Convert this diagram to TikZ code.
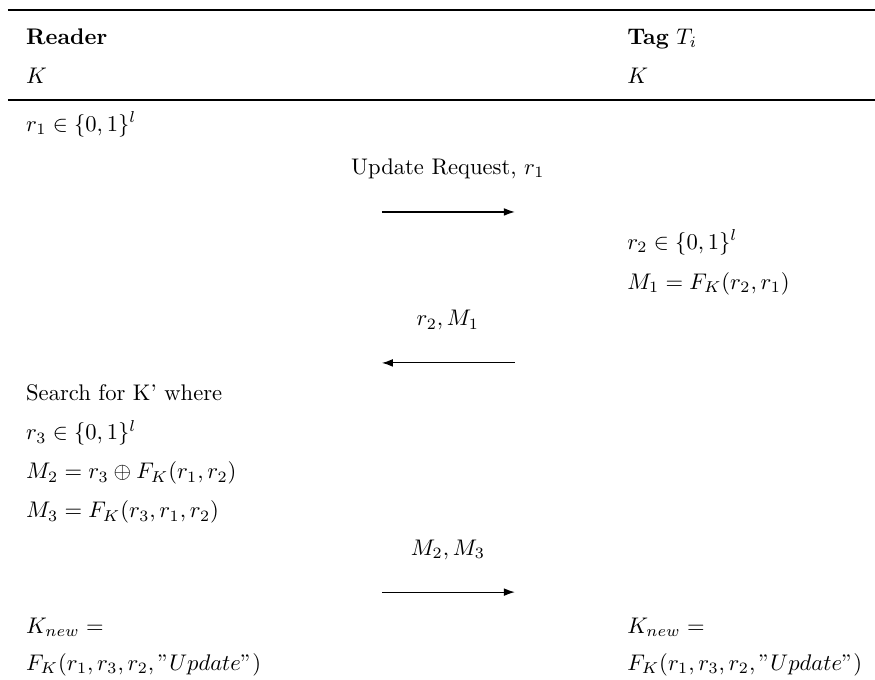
\documentclass[tikz,border=0pt]{standalone}
\usepackage{amsmath}
\usepackage{amssymb}
\usepackage{tikz}
\usetikzlibrary{arrows.meta,positioning}

\begin{document}
\begin{tikzpicture}[
    cell/.style={anchor=west,inner sep=0pt,text height=1.5ex,text depth=.25ex},
    msg/.style={anchor=center,inner sep=0pt,text height=1.5ex,text depth=.25ex},
    msgarrow/.style={-{Latex[length=1.7mm,width=1.2mm]},line width=0.5pt},
    hrule/.style={line width=0.6pt}]
\useasboundingbox (0,0) rectangle (13.61,-10.57);
% rules of the table
\coordinate (topL) at (0.124,-0.156);
\coordinate (topR) at (13.61,-0.156);
\coordinate (midL) at (0.124,-1.555);
\coordinate (midR) at (13.61,-1.555);
\draw[hrule] (topL) -- (topR);
\draw[hrule] (midL) -- (midR);
% header
\node[cell] (reader) at (0.40,-0.591) {\textbf{Reader}};
\node[cell] (tag)    at (9.75,-0.591) {\textbf{Tag} $T_i$};
\node[cell] (keyR)   at (0.40,-1.197) {$K$};
\node[cell] (keyT)   at (9.75,-1.197) {$K$};
% step 1
\node[cell] (rone) at (0.40,-1.944) {$r_1 \in \{0,1\}^l$};
\node[msg]  (req)  at (6.966,-2.612) {Update Request, $r_1$};
\coordinate (reqS) at (5.94,-3.297);
\coordinate (reqE) at (8.008,-3.297);
\draw[msgarrow] (reqS) -- (reqE);
% step 2
\node[cell] (rtwo) at (9.75,-3.779) {$r_2 \in \{0,1\}^l$};
\node[cell] (mone) at (9.75,-4.401) {$M_1 = F_K(r_2,r_1)$};
\node[msg]  (resp) at (6.966,-4.976) {$r_2,M_1$};
\coordinate (respS) at (8.008,-5.645);
\coordinate (respE) at (5.94,-5.645);
\draw[msgarrow] (respS) -- (respE);
% step 3
\node[cell] (search) at (0.40,-6.142) {Search for K' where};
\node[cell] (rthree) at (0.40,-6.749) {$r_3 \in \{0,1\}^l$};
\node[cell] (mtwo)   at (0.40,-7.355) {$M_2 = r_3 \oplus F_K(r_1,r_2)$};
\node[cell] (mthree) at (0.40,-7.962) {$M_3 = F_K(r_3,r_1,r_2)$};
\node[msg]  (upd)    at (6.966,-8.540) {$M_2,M_3$};
\coordinate (updS) at (5.94,-9.210);
\coordinate (updE) at (8.008,-9.210);
\draw[msgarrow] (updS) -- (updE);
% new key on both sides
\node[cell] (knewR) at (0.40,-9.760) {$K_{new} =$};
\node[cell] (fR)    at (0.40,-10.330) {$F_K(r_1,r_3,r_2,"Update")$};
\node[cell] (knewT) at (9.75,-9.760) {$K_{new} =$};
\node[cell] (fT)    at (9.75,-10.330) {$F_K(r_1,r_3,r_2,"Update")$};
\end{tikzpicture}
\end{document}
